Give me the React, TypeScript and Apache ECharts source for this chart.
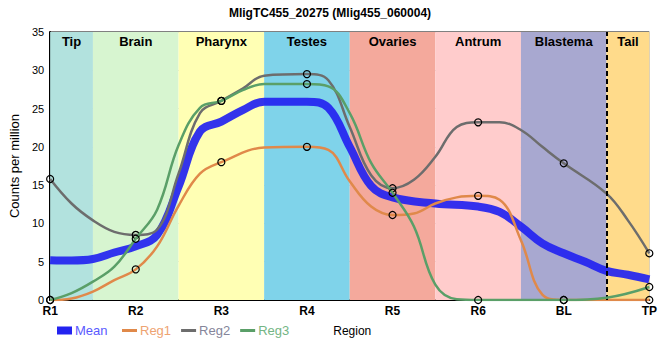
import React, { useEffect, useRef } from "react";
import * as echarts from "echarts";

const categories = ["R1", "R2", "R3", "R4", "R5", "R6", "BL", "TP"];
const regionNames = ["Tip", "Brain", "Pharynx", "Testes", "Ovaries", "Antrum", "Blastema", "Tail"];
const regionStart = [0, 0.5, 1.5, 2.5, 3.5, 4.5, 5.5, 6.5];
const regionEnd = [0.5, 1.5, 2.5, 3.5, 4.5, 5.5, 6.5, 7];
const regionColors = ["#b2e2de", "#d7f5d0", "#ffffb4", "#7fd3ea", "#f4a99c", "#ffcccc", "#a8a8d0", "#ffdb8b"];
const tailBoundary = 6.5;

// [position, value]; markers at the integer (region) positions
const meanData: [number, number][] = [
  [0, 5.2], [0.25, 5.15], [0.5, 5.35], [0.75, 6.2], [1, 7.0], [1.25, 8.5], [1.5, 14.8],
  [1.75, 22.0], [2, 23.3], [2.25, 24.8], [2.5, 25.9], [3, 25.9], [3.25, 25.1], [3.5, 20.0],
  [3.75, 14.9], [4, 13.4], [4.5, 12.6], [5, 12.2], [5.25, 11.5], [5.5, 9.6], [5.75, 7.4],
  [6, 6.1], [6.25, 5.0], [6.5, 3.8], [6.75, 3.3], [7, 2.7],
];
const reg1Data: [number, number][] = [
  [0, 0], [0.25, 0.2], [0.5, 1.1], [0.75, 2.6], [1, 4.0], [1.25, 7.0], [1.5, 12.3],
  [1.75, 16.5], [2, 18.0], [2.5, 19.9], [3, 20.0], [3.25, 19.6], [3.5, 15.5], [3.75, 12.2],
  [4, 11.1], [4.25, 11.3], [4.5, 12.6], [4.75, 13.4], [5, 13.6], [5.25, 13.1], [5.5, 7.8],
  [5.75, 0.7], [6, 0], [6.5, 0], [7, 0],
];
const reg2Data: [number, number][] = [
  [0, 15.8], [0.25, 12.6], [0.5, 10.4], [0.75, 8.9], [1, 8.5], [1.25, 9.2], [1.5, 16.5],
  [1.75, 24.4], [2, 26.0], [2.25, 27.6], [2.5, 29.3], [3, 29.5], [3.25, 28.7], [3.5, 22.6],
  [3.75, 16.3], [4, 14.6], [4.25, 15.7], [4.5, 18.7], [4.75, 22.6], [5, 23.2], [5.25, 23.2],
  [5.5, 22.2], [5.75, 20.0], [6, 17.85], [6.5, 13.9], [6.75, 10.4], [7, 6.1],
];
const reg3Data: [number, number][] = [
  [0, 0], [0.25, 0.9], [0.5, 2.4], [0.75, 4.35], [1, 8.0], [1.25, 11.8], [1.5, 20.2],
  [1.75, 25.1], [2, 26.0], [2.25, 27.4], [2.5, 28.2], [3, 28.2], [3.25, 27.9], [3.5, 24.4],
  [3.75, 17.9], [4, 14.0], [4.25, 9.6], [4.5, 2.0], [4.75, 0.1], [5, 0], [6, 0], [6.5, 0.3],
  [7, 1.7],
];

const seriesNames = ["Mean", "Reg1", "Reg2", "Reg3"];
const seriesData = [meanData, reg1Data, reg2Data, reg3Data];
const lineColors = ["#2323f0", "#e0894a", "#6d6d6d", "#5a9f68"];
const legendTextColors = ["#5a5aff", "#eea372", "#85859a", "#74b584"];
const lineWidths = [8, 2.5, 2.5, 2.5];

const FONT = "Liberation Sans, Arial, sans-serif";

export default function App() {
  const ref = useRef<HTMLDivElement>(null);
  useEffect(() => {
    if (!ref.current) return;
    const chart = echarts.init(ref.current, null, { renderer: "svg" });

    const bandSeries: any = {
      name: "bands",
      type: "line",
      data: [],
      z: -1,
      silent: true,
      markArea: {
        silent: true,
        data: regionNames.map((n, i) => [
          {
            name: n,
            xAxis: regionStart[i],
            itemStyle: { color: regionColors[i] },
            label: {
              show: true,
              position: "insideTop",
              distance: 3,
              color: "#000",
              fontWeight: "bold",
              fontSize: 13,
              fontFamily: FONT,
            },
          },
          { xAxis: regionEnd[i] },
        ]),
      },
      markLine: {
        silent: true,
        symbol: "none",
        label: { show: false },
        lineStyle: { color: "#000", type: [5, 3], width: 2 },
        data: [{ xAxis: tailBoundary }],
      },
    };

    const lineSeries = seriesNames.map((name, i) => ({
      name,
      type: "line",
      smooth: 0.4,
      data: seriesData[i],
      showAllSymbol: true,
      symbol: i === 0 ? "none" : (v: number[]) => (Number.isInteger(v[0]) ? "circle" : "none"),
      symbolSize: 7,
      z: 2 + i,
      lineStyle: { color: lineColors[i], width: lineWidths[i], opacity: i === 0 ? 0.92 : 1 },
      itemStyle: { color: "rgba(0,0,0,0)", borderColor: "#000", borderWidth: 1.2 },
      emphasis: { disabled: true },
    }));

    chart.setOption({
      animation: false,
      title: {
        text: "MligTC455_20275 (Mlig455_060004)",
        left: "center",
        top: 2,
        textStyle: { fontSize: 12, fontWeight: "bold", color: "#000", fontFamily: FONT },
      },
      legend: [
        {
          data: [{ name: "Mean", icon: "rect", itemStyle: { color: lineColors[0], borderWidth: 0 }, textStyle: { color: legendTextColors[0] } }],
          left: 52,
          top: 319,
          itemWidth: 15,
          itemHeight: 8,
          itemGap: 4,
          selectedMode: false,
          textStyle: { fontSize: 13, fontFamily: FONT, padding: [0, 0, 0, -2] },
        },
        {
          data: seriesNames.slice(1).map((n, k) => ({
            name: n,
            icon: "rect",
            itemStyle: { color: lineColors[k + 1], borderWidth: 0 },
            textStyle: { color: legendTextColors[k + 1] },
          })),
          left: 117,
          top: 319,
          itemWidth: 15,
          itemHeight: 3,
          itemGap: 10,
          selectedMode: false,
          textStyle: { fontSize: 13, fontFamily: FONT, padding: [0, 0, 0, -2] },
        },
      ],
      grid: {
        left: 50,
        right: 9,
        top: 32,
        bottom: 60,
        show: true,
        borderColor: "#000",
        borderWidth: 1,
        backgroundColor: "transparent",
      },
      xAxis: {
        type: "value",
        min: 0,
        max: 7,
        interval: 1,
        name: "Region",
        nameLocation: "middle",
        nameGap: 25,
        nameTextStyle: { color: "#000", fontSize: 12, fontFamily: FONT, padding: [0, 0, 0, 5] },
        axisLine: { show: true, lineStyle: { color: "#000", width: 2 } },
        axisTick: { show: false },
        axisLabel: {
          formatter: (v: number) => categories[v] ?? "",
          color: "#000",
          fontWeight: "bold",
          fontSize: 12,
          fontFamily: FONT,
          margin: 5,
        },
        splitLine: { show: true, lineStyle: { color: "#cccccc", width: 1 } },
      },
      yAxis: {
        type: "value",
        min: 0,
        max: 35,
        interval: 5,
        name: "Counts per million",
        nameLocation: "middle",
        nameGap: 15,
        nameTextStyle: { color: "#000", fontSize: 13, fontFamily: FONT },
        axisLine: { show: true, lineStyle: { color: "#000", width: 2 } },
        axisTick: { show: false },
        axisLabel: { color: "#000", fontSize: 11, fontFamily: FONT, margin: 6 },
        splitLine: { show: true, lineStyle: { color: "#cccccc", width: 1 } },
      },
      series: [bandSeries, ...lineSeries],
    });
    return () => chart.dispose();
  }, []);
  return <div ref={ref} style={{ width: 660, height: 360, position: "absolute", left: 0, top: 0 }} />;
}
